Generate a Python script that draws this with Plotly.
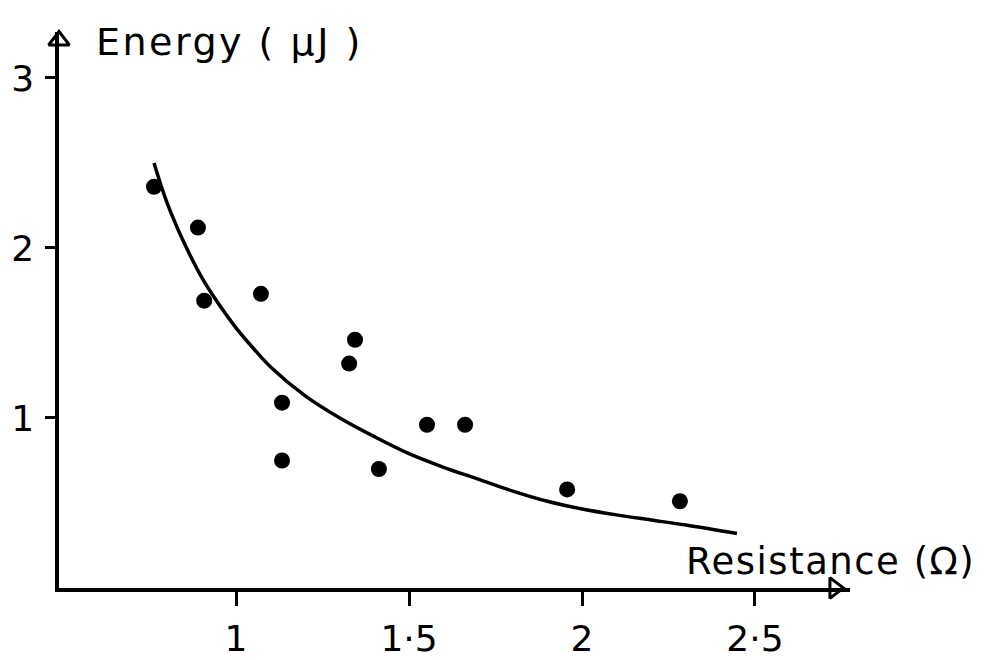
import plotly.graph_objects as go

# Measured points: resistance (ohm) vs. energy (uJ)
resistance = [0.763, 0.890, 0.908, 1.072, 1.133, 1.133, 1.327, 1.344, 1.413, 1.552, 1.662, 1.957, 2.283]
energy = [2.36, 2.12, 1.69, 1.73, 1.09, 0.75, 1.32, 1.46, 0.70, 0.96, 0.96, 0.58, 0.51]

# Hand-fitted trend curve through the measurements
fit_resistance = [0.763, 0.80, 0.85, 0.90, 0.95, 1.00, 1.05, 1.10, 1.20, 1.30, 1.40,
                  1.50, 1.60, 1.70, 1.80, 1.90, 2.00, 2.10, 2.20, 2.30, 2.448]
fit_energy = [2.50, 2.27, 2.03, 1.83, 1.67, 1.53, 1.41, 1.30, 1.13, 1.00, 0.89,
              0.79, 0.71, 0.64, 0.57, 0.51, 0.465, 0.43, 0.40, 0.37, 0.32]

x_ticks = [1, 1.5, 2, 2.5]
x_tick_text = ["1", "1·5", "2", "2·5"]
y_ticks = [1, 2, 3]
y_tick_text = ["1", "2", "3"]

X_RANGE = [0.4884, 2.7746]
Y_RANGE = [0.0, 3.27]

W, H = 996, 660
M = dict(l=59, r=146, t=32, b=72)
FONT = "DejaVu Sans"


def paper_x(px):
    return (px - M["l"]) / (W - M["l"] - M["r"])


def paper_y(py):
    return (H - M["b"] - py) / (H - M["t"] - M["b"])


fig = go.Figure()

# Trend curve
fig.add_trace(go.Scatter(
    x=fit_resistance, y=fit_energy, mode="lines",
    line=dict(color="black", width=3.5, shape="spline", smoothing=1.0),
    hoverinfo="skip",
))

# Data points
fig.add_trace(go.Scatter(
    x=resistance, y=energy, mode="markers",
    marker=dict(color="black", size=16, line=dict(width=0)),
))

# Open arrowheads at the ends of both axes
fig.add_trace(go.Scatter(
    x=[X_RANGE[1] - 0.045], y=[Y_RANGE[0]], mode="markers",
    marker=dict(symbol="triangle-right", size=18, color="white",
                line=dict(color="black", width=3)),
    cliponaxis=False, hoverinfo="skip",
))
fig.add_trace(go.Scatter(
    x=[X_RANGE[0]], y=[Y_RANGE[1] - 0.05], mode="markers",
    marker=dict(symbol="triangle-up", size=18, color="white",
                line=dict(color="black", width=3)),
    cliponaxis=False, hoverinfo="skip",
))

fig.update_layout(
    width=W, height=H, margin=M,
    paper_bgcolor="white", plot_bgcolor="white",
    showlegend=False,
    font=dict(family=FONT, color="black", size=36),
    xaxis=dict(
        range=X_RANGE, showgrid=False, zeroline=False, automargin=False,
        showline=True, linecolor="black", linewidth=3.5,
        ticks="outside", ticklen=14, tickwidth=3, tickcolor="black",
        tickvals=x_ticks, ticktext=x_tick_text,
        tickfont=dict(family=FONT, size=36),
        ticklabelstandoff=2,
    ),
    yaxis=dict(
        range=Y_RANGE, showgrid=False, zeroline=False, automargin=False,
        showline=True, linecolor="black", linewidth=3.5,
        ticks="outside", ticklen=10, tickwidth=3, tickcolor="black",
        tickvals=y_ticks, ticktext=y_tick_text,
        tickfont=dict(family=FONT, size=36),
        ticklabelstandoff=4,
    ),
    annotations=[
        dict(text='<span style="letter-spacing:2.5px">Energy ( μJ )</span>',
             xref="paper", yref="paper",
             x=paper_x(94), y=paper_y(42), xanchor="left", yanchor="middle",
             showarrow=False, font=dict(family=FONT, size=38)),
        dict(text='<span style="letter-spacing:1.5px">Resistance (Ω)</span>',
             xref="paper", yref="paper",
             x=paper_x(684), y=paper_y(561), xanchor="left", yanchor="middle",
             showarrow=False, font=dict(family=FONT, size=37)),
    ],
)

fig.write_html("out.html")
